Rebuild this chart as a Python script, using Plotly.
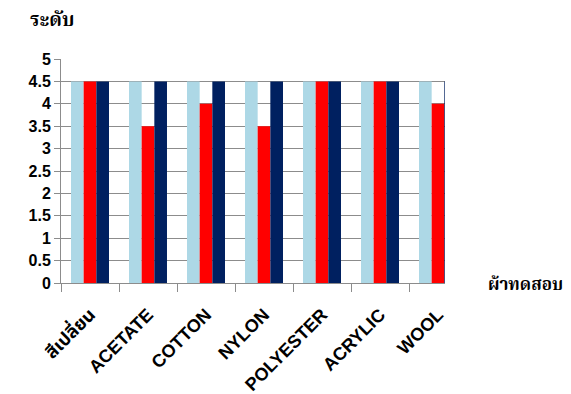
import plotly.graph_objects as go

# Fabric test results: rating per fabric for three evaluations
fabrics = ["สีเปลี่ยน", "ACETATE", "COTTON", "NYLON", "POLYESTER", "ACRYLIC", "WOOL"]
series_a = [4.5, 4.5, 4.5, 4.5, 4.5, 4.5, 4.5]
series_b = [4.5, 3.5, 4.0, 3.5, 4.5, 4.5, 4.0]
series_c = [4.5, 4.5, 4.5, 4.5, 4.5, 4.5, 4.5]
y_ticks = [0, 0.5, 1, 1.5, 2, 2.5, 3, 3.5, 4, 4.5, 5]

colors = ["#add8e6", "#ff0000", "#002060"]
thai_font = "Noto Serif Thai, Noto Sans Thai Looped, Loma, Garuda, Norasi, Liberation Serif, serif"

fig = go.Figure()
for vals, col in zip([series_a, series_b, series_c], colors):
    fig.add_trace(go.Bar(x=fabrics, y=vals, marker=dict(color=col, line=dict(width=0)),
                         showlegend=False))

W, H = 571, 394
L, R, T, B = 61, 126, 59, 111
plot_w = W - L - R
plot_h = H - T - B

fig.update_layout(
    width=W, height=H,
    margin=dict(l=L, r=R, t=T, b=B),
    barmode="group", bargap=0.345, bargroupgap=0,
    plot_bgcolor="white", paper_bgcolor="white",
    font=dict(family="Liberation Sans, Noto Sans Thai, sans-serif", color="#000000"),
)

fig.update_xaxes(
    type="category", automargin=False,
    range=[-0.5, -0.5 + plot_w / 58.0],
    tickson="boundaries", ticks="outside", ticklen=8, tickcolor="#8c8c8c",
    tickangle=-45, ticklabelstandoff=13,
    tickfont=dict(size=18, weight="bold", family="Liberation Sans, Noto Sans Thai, sans-serif"),
    showline=True, linecolor="#8c8c8c", linewidth=1,
    showgrid=False, zeroline=False,
)
fig.update_yaxes(
    automargin=False,
    range=[0, 5], tickvals=y_ticks,
    ticktext=[f"{v:g}" for v in y_ticks],
    ticks="outside", ticklen=6, tickcolor="#8c8c8c",
    tickfont=dict(size=16, weight="bold"),
    showline=True, linecolor="#8c8c8c", linewidth=1,
    showgrid=True, gridcolor="#8c8c8c", gridwidth=1,
    zeroline=False,
)

fig.add_annotation(text="<b>ระดับ</b>", xref="paper", yref="paper",
                   x=-33 / plot_w, y=(283 - 21) / plot_h, xanchor="left", yanchor="middle",
                   showarrow=False, font=dict(size=19, family=thai_font))
fig.add_annotation(text="<b>ผ้าทดสอบ</b>", xref="paper", yref="paper",
                   x=(486 - L) / plot_w, y=-2 / plot_h, xanchor="left", yanchor="middle",
                   showarrow=False, font=dict(size=17, family=thai_font))

fig.write_html("out.html")
